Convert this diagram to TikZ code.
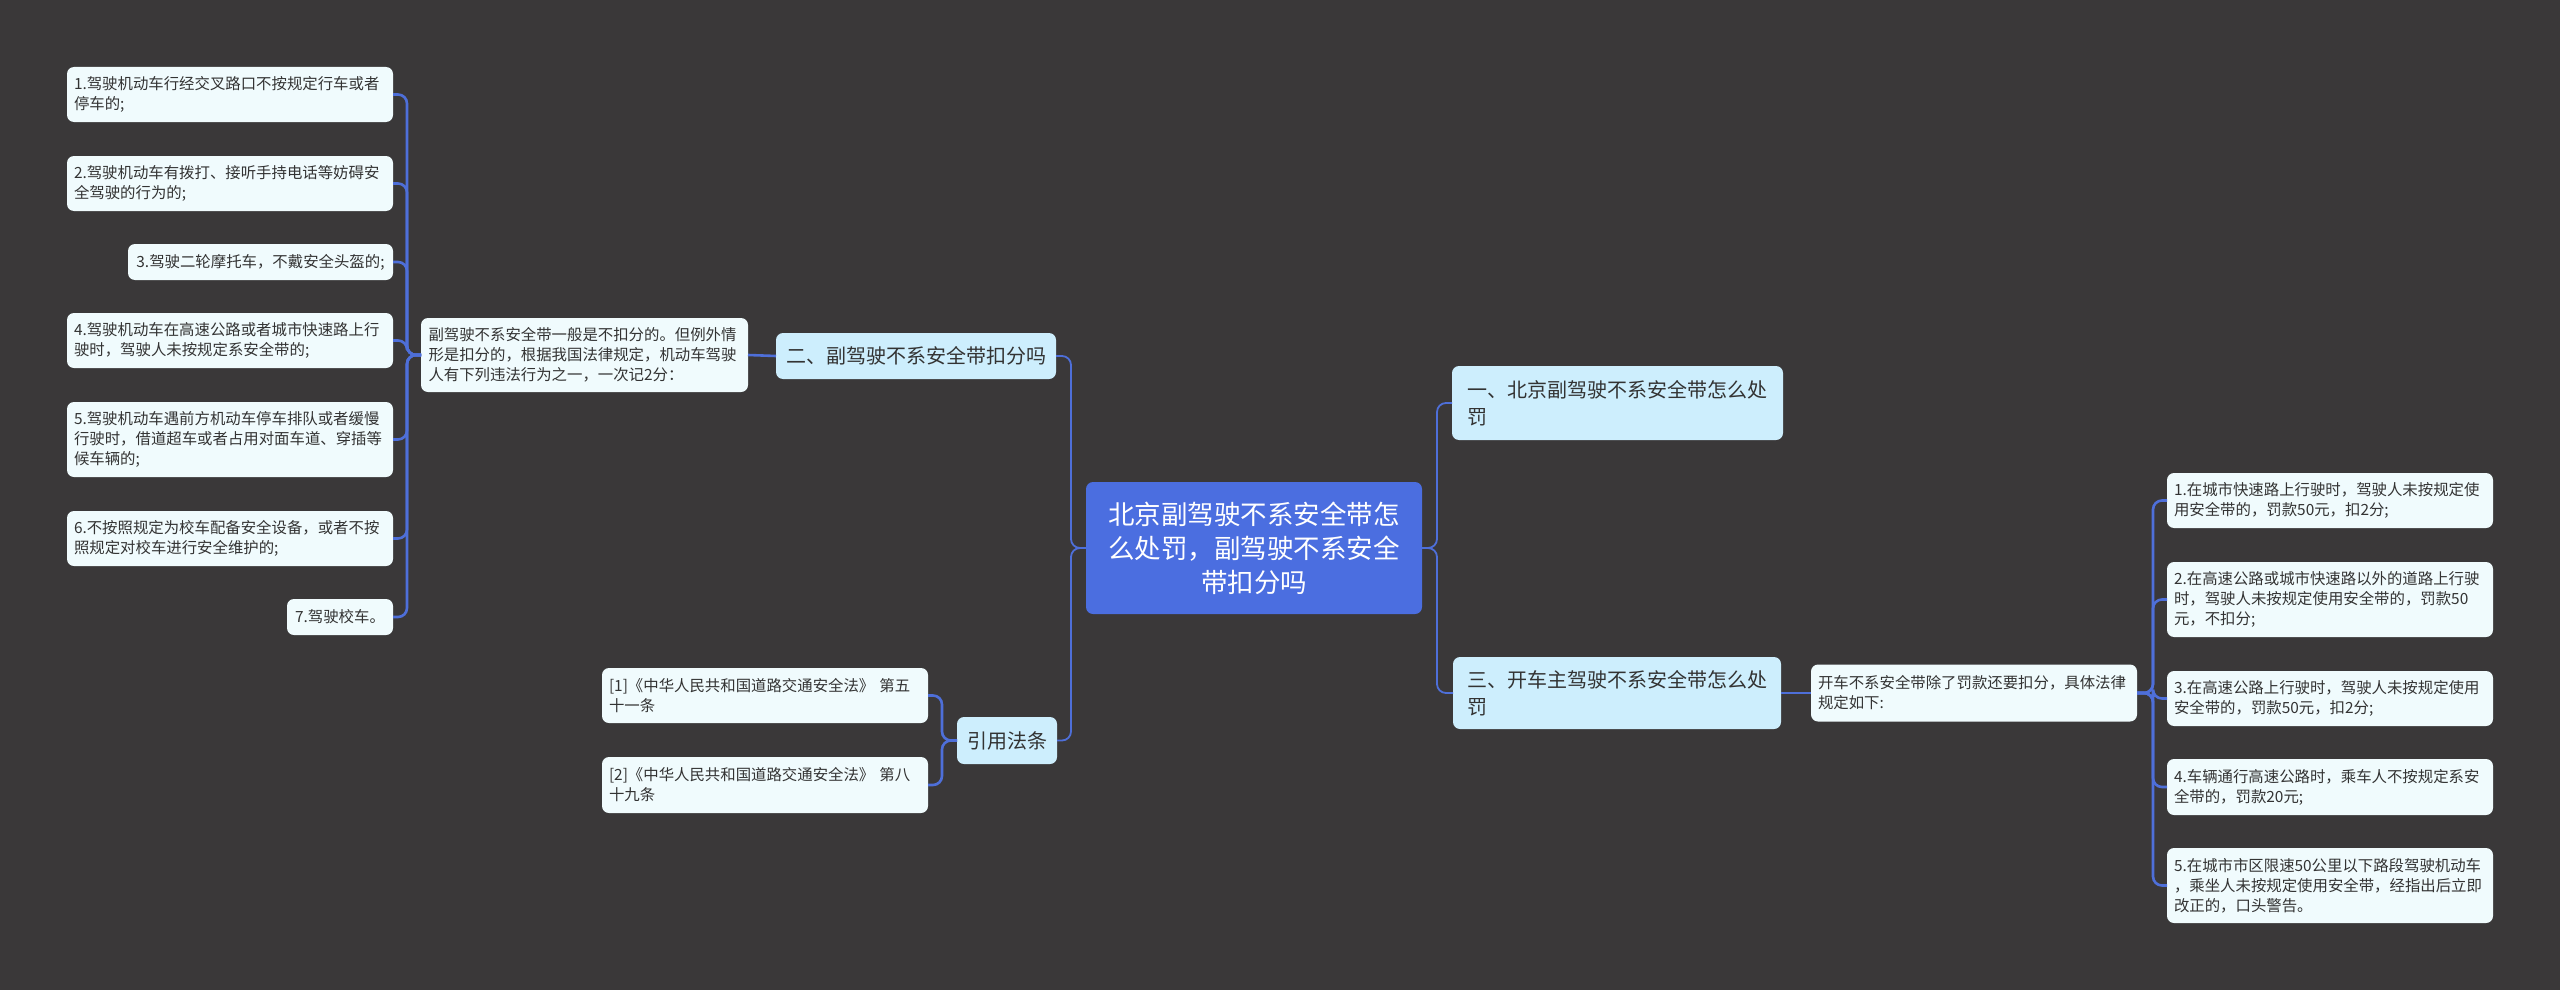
\documentclass[tikz,border=0pt]{standalone}
\usepackage{fontspec}
\newfontfamily\cjk{Noto Sans CJK SC}
\definecolor{bg}{HTML}{3A3839}
\definecolor{rootc}{HTML}{4B6EE0}
\definecolor{branchc}{HTML}{CDEEFD}
\definecolor{leafc}{HTML}{F0FBFD}
\definecolor{linec}{HTML}{4E6FD9}
\definecolor{txt}{HTML}{333333}
\begin{document}
\begin{tikzpicture}[x=1pt,y=-1pt,
  leaf/.style={rectangle, rounded corners=7pt, fill=leafc, text=txt,
    font=\cjk\fontsize{15.4}{20}\selectfont, align=left,
    inner xsep=7pt, inner ysep=4pt, outer sep=0pt},
  wide/.style={text width=312pt},
  branch/.style={rectangle, rounded corners=7pt, fill=branchc, text=txt,
    font=\cjk\fontsize{20}{27}\selectfont, align=left,
    inner xsep=10pt, inner ysep=4pt, outer sep=0pt},
  rootbox/.style={rectangle, rounded corners=7pt, fill=rootc, text=white,
    font=\cjk\fontsize{26.5}{34}\selectfont, align=center,
    inner xsep=10pt, inner ysep=4pt, outer sep=0pt},
  conn/.style={draw=linec, line width=2.6pt, rounded corners=9pt},
  thinconn/.style={draw=linec, line width=1.8pt, rounded corners=9pt}]
\fill[bg] (0,0) rectangle (2560,990);
\useasboundingbox (0,0) rectangle (2560,990);

% root
\node[rootbox, minimum width=336pt, minimum height=132pt] (root) at (1254,548)
  {北京副驾驶不系安全带怎\\么处罚，副驾驶不系安全\\带扣分吗};

% left branch: 二
\node[branch, minimum width=278pt, minimum height=46pt] (b2) at (916,356)
  {二、副驾驶不系安全带扣分吗};
\node[leaf, wide, minimum width=327pt, minimum height=74pt] (p2) at (584.5,355)
  {副驾驶不系安全带一般是不扣分的。但例外情\\形是扣分的，根据我国法律规定，机动车驾驶\\人有下列违法行为之一，一次记2分：};

\node[leaf, wide, minimum width=326pt, minimum height=55pt] (l1) at (230,94.5)
  {1.驾驶机动车行经交叉路口不按规定行车或者\\停车的;};
\node[leaf, wide, minimum width=326pt, minimum height=55pt] (l2) at (230,183.5)
  {2.驾驶机动车有拨打、接听手持电话等妨碍安\\全驾驶的行为的;};
\node[leaf, minimum width=265pt, minimum height=36pt] (l3) at (260.5,262)
  {3.驾驶二轮摩托车，不戴安全头盔的;};
\node[leaf, wide, minimum width=326pt, minimum height=55pt] (l4) at (230,340.5)
  {4.驾驶机动车在高速公路或者城市快速路上行\\驶时，驾驶人未按规定系安全带的;};
\node[leaf, wide, minimum width=326pt, minimum height=75pt] (l5) at (230,439.5)
  {5.驾驶机动车遇前方机动车停车排队或者缓慢\\行驶时，借道超车或者占用对面车道、穿插等\\候车辆的;};
\node[leaf, wide, minimum width=326pt, minimum height=55pt] (l6) at (230,538.5)
  {6.不按照规定为校车配备安全设备，或者不按\\照规定对校车进行安全维护的;};
\node[leaf, minimum width=106pt, minimum height=36pt] (l7) at (340,617)
  {7.驾驶校车。};

% left branch: 引用法条
\node[branch, minimum width=100pt, minimum height=47pt] (ref) at (1007,740.5)
  {引用法条};
\node[leaf, wide, minimum width=326pt, minimum height=55pt] (r1) at (765,695.5)
  {[1]《中华人民共和国道路交通安全法》 第五\\十一条};
\node[leaf, wide, minimum width=326pt, minimum height=56pt] (r2) at (765,785)
  {[2]《中华人民共和国道路交通安全法》 第八\\十九条};

% right branches
\node[branch, minimum width=331pt, minimum height=74pt] (b1) at (1617.5,403)
  {一、北京副驾驶不系安全带怎么处\\罚};
\node[branch, minimum width=328pt, minimum height=72pt] (b3) at (1617,693)
  {三、开车主驾驶不系安全带怎么处\\罚};
\node[leaf, wide, minimum width=326pt, minimum height=57pt] (k) at (1974,693)
  {开车不系安全带除了罚款还要扣分，具体法律\\规定如下:};

\node[leaf, wide, minimum width=326pt, minimum height=55pt] (q1) at (2330,500.5)
  {1.在城市快速路上行驶时，驾驶人未按规定使\\用安全带的，罚款50元，扣2分;};
\node[leaf, wide, minimum width=326pt, minimum height=75pt] (q2) at (2330,599.5)
  {2.在高速公路或城市快速路以外的道路上行驶\\时，驾驶人未按规定使用安全带的，罚款50\\元，不扣分;};
\node[leaf, wide, minimum width=326pt, minimum height=55pt] (q3) at (2330,698.5)
  {3.在高速公路上行驶时，驾驶人未按规定使用\\安全带的，罚款50元，扣2分;};
\node[leaf, wide, minimum width=326pt, minimum height=56pt] (q4) at (2330,787)
  {4.车辆通行高速公路时，乘车人不按规定系安\\全带的，罚款20元;};
\node[leaf, wide, minimum width=326pt, minimum height=75pt] (q5) at (2330,885.5)
  {5.在城市市区限速50公里以下路段驾驶机动车\\，乘坐人未按规定使用安全带，经指出后立即\\改正的，口头警告。};

% junctions
\coordinate (jroot-l) at (1071,548);
\coordinate (jroot-r) at (1437,548);
\coordinate (jp2) at (407,355);
\coordinate (jref) at (942,740.5);
\coordinate (jk) at (2153,693);

% connectors
\foreach \t in {b2,ref} \draw[thinconn] (root.west) -- (jroot-l) |- (\t.east);
\foreach \t in {b1,b3} \draw[thinconn] (root.east) -- (jroot-r) |- (\t.west);
\draw[conn] (b2.west) -- (p2.east);
\foreach \t in {l1,l2,l3,l4,l5,l6,l7} \draw[conn] (p2.west) -- (jp2) |- (\t.east);
\foreach \t in {r1,r2} \draw[conn] (ref.west) -- (jref) |- (\t.east);
\draw[conn] (b3.east) -- (k.west);
\foreach \t in {q1,q2,q3,q4,q5} \draw[conn] (k.east) -- (jk) |- (\t.west);
\end{tikzpicture}
\end{document}
